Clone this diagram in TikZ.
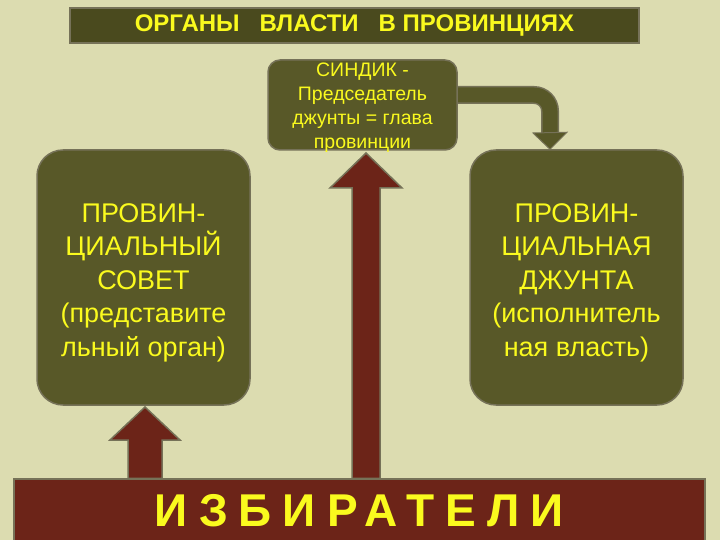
\documentclass[tikz,border=0pt]{standalone}
\usepackage{fontspec}
\setmainfont{Liberation Sans}
\usetikzlibrary{calc}
\definecolor{bgc}{RGB}{220,220,176}
\definecolor{olivebox}{RGB}{88,88,40}
\definecolor{titlebox}{RGB}{74,74,30}
\definecolor{rimc}{RGB}{118,114,88}
\definecolor{darkred}{RGB}{108,36,24}
\definecolor{txty}{RGB}{250,250,30}
\newcommand{\myuparrow}[5]{% tip, base, shaft half width, head half width, head length
  \draw[fatarrow] let \p1=(#1), \p2=(#2) in
    (\x1-#3,\y2) -- (\x1-#3,\y1-#5) -- (\x1-#4,\y1-#5) -- (\x1,\y1)
    -- (\x1+#4,\y1-#5) -- (\x1+#3,\y1-#5) -- (\x1+#3,\y2) -- cycle;}
\begin{document}
\begin{tikzpicture}[x=1pt,y=-1pt,
  roundbox/.style={draw=rimc, line width=1.5pt, fill=olivebox, inner sep=0pt},
  boxtext/.style={text=txty, align=center, inner sep=0pt},
  fatarrow/.style={draw=rimc, line width=1.5pt, fill=darkred, line join=miter}]
\fill[bgc] (0,0) rectangle (720,540);
\useasboundingbox (0,0) rectangle (720,540);
% title
\node[draw=rimc, line width=1.5pt, fill=titlebox, minimum width=569pt, minimum height=35pt, inner sep=0pt,
      text=txty, font=\fontsize{24}{26}\selectfont\bfseries] (title) at (354.5,25.5)
      {ОРГАНЫ\ \ \ ВЛАСТИ\ \ \ В ПРОВИНЦИЯХ};
% curved connector syndic -> junta
\coordinate (stemx) at (550,0);
\coordinate (stemend) at (550,134);
\draw[rimc, line width=18pt, rounded corners=16pt] (440,95) -| (stemend);
\draw[olivebox, line width=15pt, rounded corners=16pt] (440,95) -| (stemend);
% syndic
\node[roundbox, rounded corners=12pt, minimum width=189pt, minimum height=90pt] (syndic) at (362.5,105) {};
\node[boxtext, font=\fontsize{19.5}{24}\selectfont] (syndict) at ($(syndic.center)+(0,2.5)$)
      {СИНДИК -\\Председатель\\джунты = глава\\провинции};
% boxes
\node[roundbox, rounded corners=26pt, minimum width=213pt, minimum height=255pt] (council) at (143.5,277.5) {};
\node[boxtext, font=\fontsize{27}{33.5}\selectfont] (councilt) at ($(council.center)+(0,5)$)
      {ПРОВИН-\\ЦИАЛЬНЫЙ\\СОВЕТ\\(представите\\льный орган)};
\node[roundbox, rounded corners=26pt, minimum width=213pt, minimum height=255pt] (junta) at (576.5,277.5) {};
\node[boxtext, font=\fontsize{27}{33.5}\selectfont] (juntat) at ($(junta.center)+(0,5)$)
      {ПРОВИН-\\ЦИАЛЬНАЯ\\ДЖУНТА\\(исполнитель\\ная власть)};
% head of curved connector
\draw[draw=rimc, line width=1pt, fill=olivebox, line join=miter]
  (stemx |- 0,133) ++(-17,0) -- (junta.north -| stemx) -- ++(17,-17) -- cycle;
% voters bar
\node[draw=rimc, line width=1.5pt, fill=darkred, minimum width=691pt, minimum height=64pt, inner sep=0pt,
      text=txty, font=\fontsize{46}{50}\selectfont\bfseries\addfontfeature{LetterSpace=24}] (voters) at (359.5,511)
      {ИЗБИРАТЕЛИ};
% fat arrows
\coordinate (tipc) at (366,153);
\coordinate (tipl) at (145,407);
\myuparrow{tipc}{voters.north}{14pt}{36pt}{35pt}
\myuparrow{tipl}{voters.north}{17pt}{35pt}{33pt}
\end{tikzpicture}
\end{document}
